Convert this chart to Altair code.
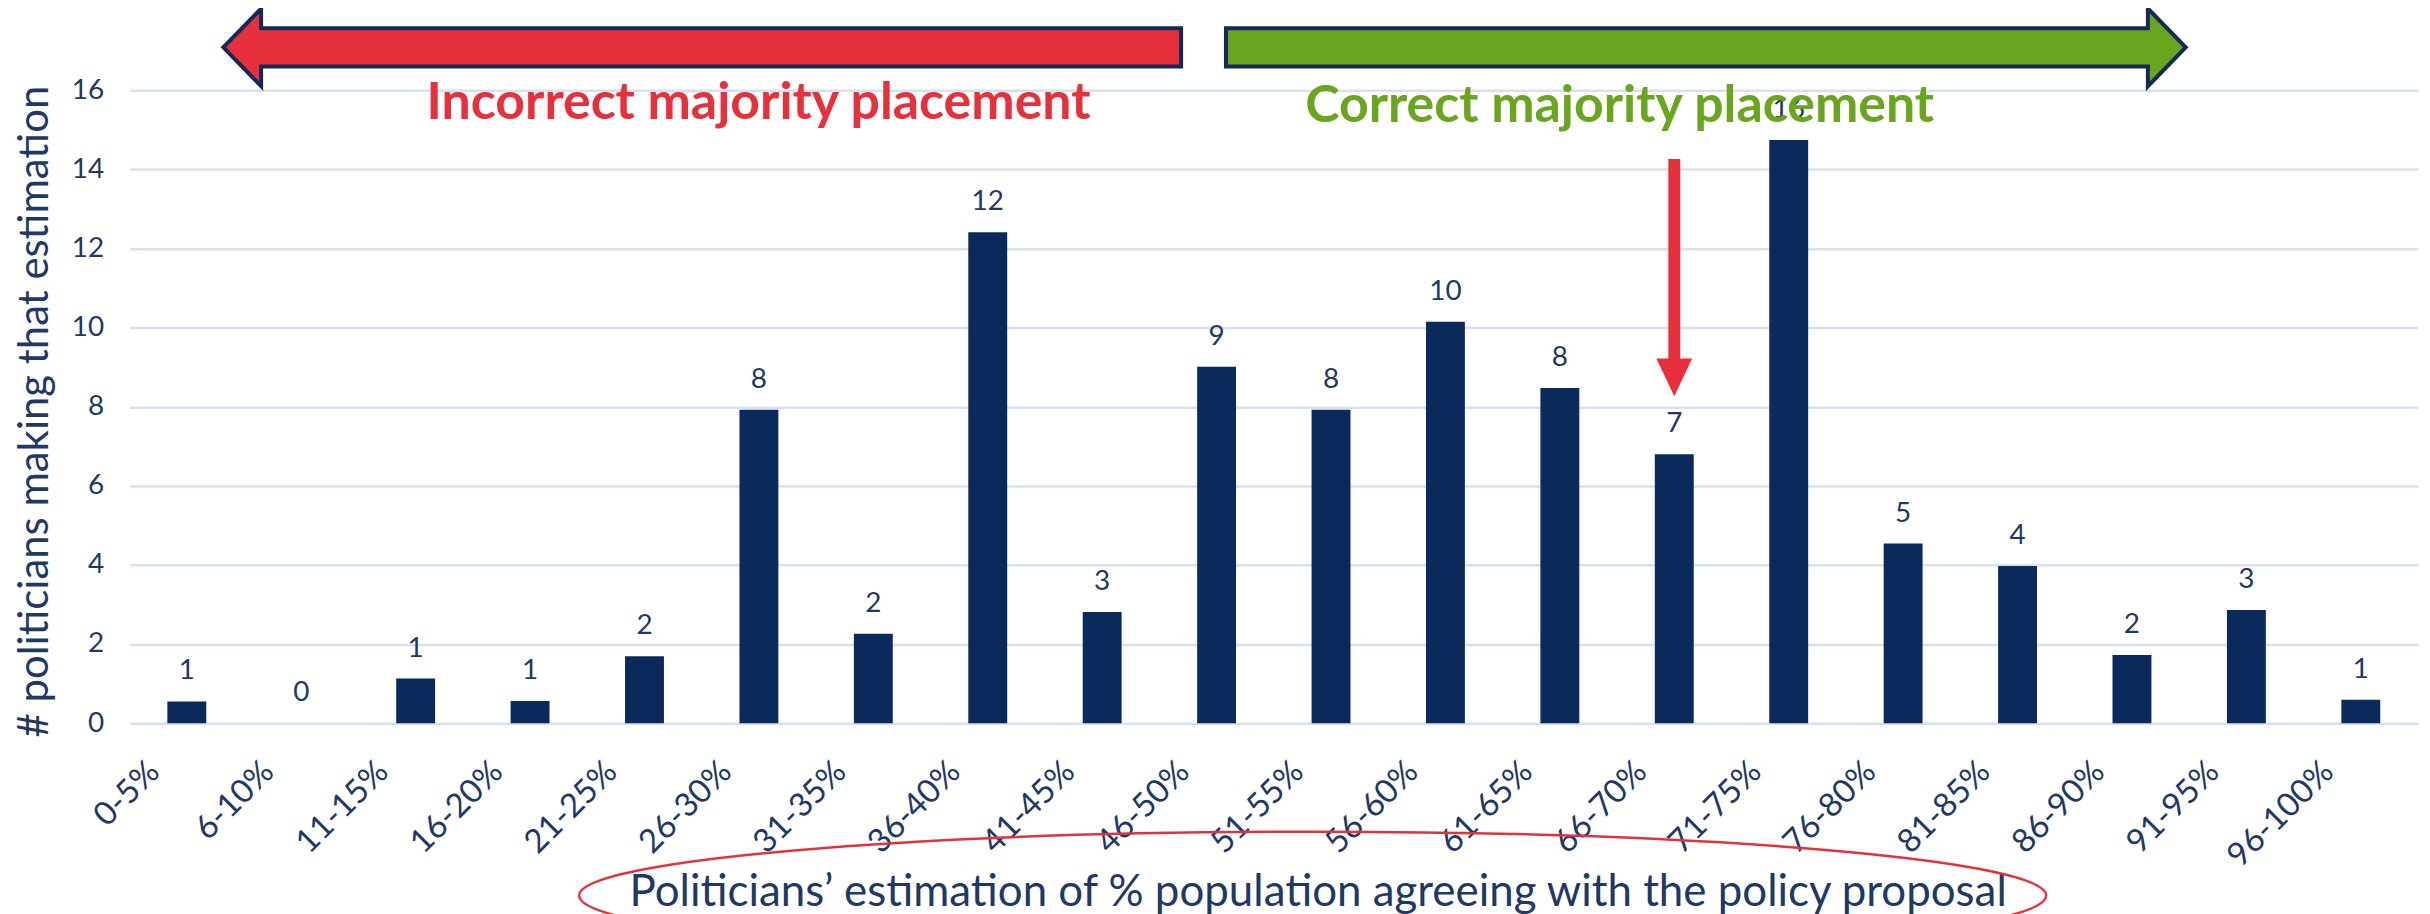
import altair as alt
import pandas as pd

categories = ["0-5%", "6-10%", "11-15%", "16-20%", "21-25%", "26-30%", "31-35%",
              "36-40%", "41-45%", "46-50%", "51-55%", "56-60%", "61-65%", "66-70%",
              "71-75%", "76-80%", "81-85%", "86-90%", "91-95%", "96-100%"]
bar_heights = [0.55, 0.0, 1.13, 0.56, 1.69, 7.92, 2.26, 12.41, 2.81, 9.01,
               7.92, 10.15, 8.47, 6.80, 14.74, 4.54, 3.97, 1.72, 2.86, 0.59]
bar_labels = ["1", "0", "1", "1", "2", "8", "2", "12", "3", "9",
              "8", "10", "8", "7", "16", "5", "4", "2", "3", "1"]
y_ticks = [0, 2, 4, 6, 8, 10, 12, 14, 16]

y_title = "# politicians making that estimation"
x_title = "Politicians\u2019 estimation of % population agreeing with the policy proposal"
left_note = "Incorrect majority placement"
right_note = "Correct majority placement"
arrow_category = "66-70%"

NAVY = "#0a2a5c"
TEXT_NAVY = "#1f3864"
GRID = "#d7e0ee"
RED = "#e8303c"
GREEN = "#6aa51e"
FONT = "Lato"

df = pd.DataFrame({"cat": categories, "value": bar_heights, "label": bar_labels})

x_enc = alt.X("cat:N", sort=categories,
              scale=alt.Scale(paddingInner=0.66, paddingOuter=0.33),
              axis=alt.Axis(title=x_title, labelAngle=315, labelFontSize=33,
                            labelColor=TEXT_NAVY, labelFont=FONT, labelPadding=32,
                            labelOffset=-44, domain=False, ticks=False,
                            titleFont=FONT, titleFontSize=44, titleFontWeight="normal",
                            titleColor=TEXT_NAVY, titleX=1192, titleY=170,
                            titleAlign="center", titleBaseline="middle"))
y_enc = alt.Y("value:Q", scale=alt.Scale(domain=[0, 16], nice=False),
              axis=alt.Axis(title=y_title, values=y_ticks, grid=True, gridColor=GRID,
                            gridWidth=2.5, domain=False, ticks=False,
                            labelFontSize=28, labelColor=TEXT_NAVY, labelFont=FONT,
                            labelPadding=26, titleFont=FONT, titleFontSize=42,
                            titleFontWeight="normal", titleColor=TEXT_NAVY,
                            titleX=-95, titleY=322, titleAngle=270,
                            titleAlign="center", titleBaseline="middle"))

bars = alt.Chart(df).mark_bar(color=NAVY).encode(x=x_enc, y=y_enc)

labels = alt.Chart(df).mark_text(dy=-30, fontSize=28, font=FONT, color=TEXT_NAVY,
                                 baseline="middle").encode(
    x=alt.X("cat:N", sort=categories), y="value:Q", text="label:N")

one = pd.DataFrame({"k": [0]})

left_arrow = alt.Chart(one).mark_point(
    shape="M -1 0 L -0.921 -0.081 L -0.921 -0.040 L 1 -0.040 L 1 0.040 L -0.921 0.040 L -0.921 0.081 Z",
    size=961 * 961, filled=True, fill=RED, stroke="#13295a", strokeWidth=4, opacity=1
).encode(x=alt.value(574.5), y=alt.value(-43))

right_arrow = alt.Chart(one).mark_point(
    shape="M 1 0 L 0.921 -0.081 L 0.921 -0.040 L -1 -0.040 L -1 0.040 L 0.921 0.040 L 0.921 0.081 Z",
    size=963 * 963, filled=True, fill=GREEN, stroke="#13295a", strokeWidth=4, opacity=1
).encode(x=alt.value(1581.5), y=alt.value(-43))

down_df = pd.DataFrame({"cat": [arrow_category]})
down_arrow = alt.Chart(down_df).mark_point(
    shape="M -0.05 -1 L 0.05 -1 L 0.05 0.681 L 0.151 0.681 L 0 1 L -0.151 0.681 L -0.05 0.681 Z",
    size=238 * 238, filled=True, fill=RED, strokeWidth=0, opacity=1
).encode(x=alt.X("cat:N", sort=categories), y=alt.value(188))

ellipse = alt.Chart(one).mark_point(
    shape="M -1 0 C -1 -0.048 -0.552 -0.087 0 -0.087 C 0.552 -0.087 1 -0.048 1 0 "
          "C 1 0.048 0.552 0.087 0 0.087 C -0.552 0.087 -1 0.048 -1 0 Z",
    size=1472 * 1472, filled=False, stroke="#e2333d", strokeWidth=2.5, fillOpacity=0,
    opacity=1
).encode(x=alt.value(1187), y=alt.value(808))

notes_left = alt.Chart(pd.DataFrame({"t": [left_note]})).mark_text(
    font=FONT, fontSize=52, fontWeight="bold", color=RED, baseline="middle", align="center"
).encode(x=alt.value(631), y=alt.value(13), text="t:N")

notes_right = alt.Chart(pd.DataFrame({"t": [right_note]})).mark_text(
    font=FONT, fontSize=52, fontWeight="bold", color=GREEN, baseline="middle", align="center"
).encode(x=alt.value(1495), y=alt.value(16), text="t:N")

chart = alt.layer(
    bars, labels, down_arrow, left_arrow, right_arrow, notes_left, notes_right, ellipse
).properties(
    width=2296, height=635,
    autosize=alt.AutoSizeParams(type="none"),
    padding={"left": 122, "top": 81, "right": 4, "bottom": 190},
    background="white",
).configure_view(stroke=None)

chart.save("out.html", embed_options={"renderer": "svg", "actions": False})
